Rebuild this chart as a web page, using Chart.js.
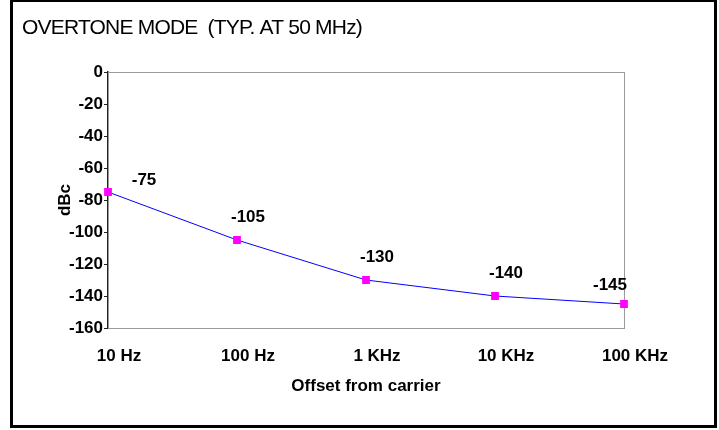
<!DOCTYPE html>
<html>
<head>
<meta charset="utf-8">
<script src="https://cdn.jsdelivr.net/npm/chart.js@4/dist/chart.umd.min.js"></script>
<style>
    html, body { margin: 0; padding: 0; background: #fff; }
    #wrap { position: relative; width: 719px; height: 430px; overflow: hidden; }
    #chart { position: absolute; left: 0; top: 0; }
    #frame {
        position: absolute; left: 10px; top: -1px;
        width: 701px; height: 423px;
        border: 3px solid #000; pointer-events: none;
    }
</style>
</head>
<body>
<div id="wrap">
    <canvas id="chart" width="719" height="430"></canvas>
    <div id="frame"></div>
</div>
<script>
// Phase noise data
const offsets = ['10 Hz', '100 Hz', '1 KHz', '10 KHz', '100 KHz'];
const dbcValues = [-75, -105, -130, -140, -145];
const yTicks = [0, -20, -40, -60, -80, -100, -120, -140, -160];

// label nudges (px) relative to each point, like the hand-placed labels in the original
const labelShiftX = [36, 11, 11, 11, -14];
const labelShiftY = [-12, -23, -23, -23, -19];

const FONT = '"Liberation Sans", Arial, sans-serif';

// outline of the plot area (gray top/right/bottom)
const plotFrame = {
    id: 'plotFrame',
    beforeDatasetsDraw(chart) {
        const { ctx, chartArea: a } = chart;
        ctx.save();
        ctx.strokeStyle = '#9a9a9a';
        ctx.lineWidth = 1;
        ctx.strokeRect(a.left + 0.5, a.top + 0.5, a.right - a.left, a.bottom - a.top);
        ctx.restore();
    }
};

// chart heading, tight letter spacing like the original
const heading = {
    id: 'heading',
    afterDraw(chart) {
        const ctx = chart.ctx;
        ctx.save();
        ctx.font = '21px ' + FONT;
        if ('letterSpacing' in ctx) ctx.letterSpacing = '-0.8px';
        ctx.fillStyle = '#000';
        ctx.textBaseline = 'alphabetic';
        ctx.fillText('OVERTONE MODE  (TYP. AT 50 MHz)', 22, 34);
        ctx.restore();
    }
};

// value labels above each point
const valueLabels = {
    id: 'valueLabels',
    afterDatasetsDraw(chart) {
        const { ctx } = chart;
        const meta = chart.getDatasetMeta(0);
        ctx.save();
        ctx.font = 'bold 17px ' + FONT;
        ctx.fillStyle = '#000';
        ctx.textAlign = 'center';
        ctx.textBaseline = 'middle';
        meta.data.forEach((pt, i) => {
            ctx.fillText(String(dbcValues[i]), pt.x + labelShiftX[i], pt.y + labelShiftY[i]);
        });
        ctx.restore();
    }
};

const ctx = document.getElementById('chart').getContext('2d');
new Chart(ctx, {
    type: 'line',
    data: {
        labels: offsets,
        datasets: [{
            data: dbcValues,
            borderColor: '#0000ff',
            borderWidth: 1,
            pointStyle: 'rect',
            pointRadius: 5.5,
            pointBackgroundColor: '#ff00ff',
            pointBorderColor: '#ff00ff',
            pointBorderWidth: 0,
            tension: 0,
            fill: false
        }]
    },
    options: {
        responsive: false,
        animation: false,
        layout: { padding: { top: 72, right: 95, left: 0, bottom: 0 } },
        plugins: {
            legend: { display: false },
            tooltip: { enabled: false }
        },
        scales: {
            x: {
                grid: { display: false, drawTicks: false },
                border: { display: true, color: '#9a9a9a', width: 1 },
                ticks: {
                    color: '#000',
                    font: { family: FONT, size: 17, weight: 'bold' },
                    padding: 18,
                    labelOffset: 11,
                    maxRotation: 0,
                    autoSkip: false
                },
                title: {
                    display: true,
                    text: 'Offset from carrier',
                    color: '#000',
                    font: { family: FONT, size: 17, weight: 'bold' },
                    padding: { top: 0, bottom: 33 }
                },
                afterFit(scale) { scale.height = 102; }
            },
            y: {
                min: -160,
                max: 0,
                afterBuildTicks(scale) {
                    scale.ticks = yTicks.map(v => ({ value: v }));
                },
                grid: {
                    display: true,
                    drawOnChartArea: false,
                    drawTicks: true,
                    tickLength: 4,
                    color: '#222'
                },
                border: { display: true, color: '#222', width: 1.5 },
                ticks: {
                    color: '#000',
                    font: { family: FONT, size: 17, weight: 'bold' },
                    padding: 1
                },
                title: {
                    display: true,
                    text: 'dBc',
                    color: '#000',
                    font: { family: FONT, size: 17, weight: 'bold' },
                    padding: { top: 55, bottom: 0 }
                },
                afterFit(scale) { scale.width = 108; }
            }
        }
    },
    plugins: [plotFrame, heading, valueLabels]
});
</script>
</body>
</html>
